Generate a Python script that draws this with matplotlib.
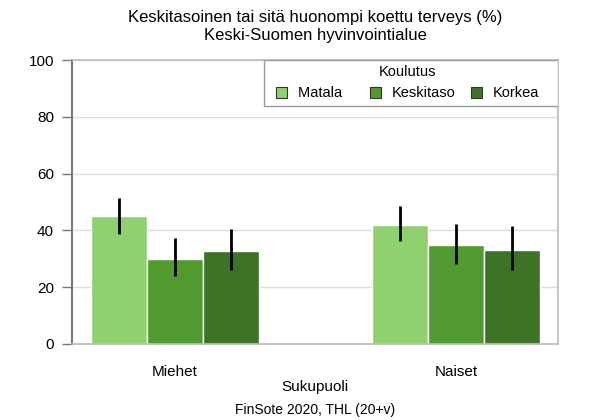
import numpy as np
import matplotlib.pyplot as plt
from matplotlib.patches import Rectangle

plt.rcParams['font.family'] = ['Liberation Sans', 'DejaVu Sans']

## data
groups = ["Miehet", "Naiset"]
levels = ["Matala", "Keskitaso", "Korkea"]
values = {
    "Matala":    [45.1, 41.9],
    "Keskitaso": [29.9, 34.9],
    "Korkea":    [32.7, 33.1],
}
err_low = {
    "Matala":    [38.7, 36.3],
    "Keskitaso": [23.9, 28.2],
    "Korkea":    [26.1, 26.1],
}
err_high = {
    "Matala":    [51.4, 48.6],
    "Keskitaso": [37.3, 42.3],
    "Korkea":    [40.5, 41.5],
}
colors = ["#8fd16f", "#519a2f", "#3d7327"]
yticks = [0, 20, 40, 60, 80, 100]

fig = plt.figure(figsize=(5.91, 4.2), dpi=100)
ax = fig.add_axes([0.1218, 0.181, 0.8222, 0.676])

x = np.arange(len(groups))
w = 0.2
bars = []
for i, (lev, col) in enumerate(zip(levels, colors)):
    pos = x + (i - 1) * w
    v = np.array(values[lev])
    lo = v - np.array(err_low[lev])
    hi = np.array(err_high[lev]) - v
    b = ax.bar(pos, v, width=w, color=col, edgecolor='white', linewidth=1, zorder=2)
    bars.append(b)
    ax.errorbar(pos, v, yerr=[lo, hi], fmt='none', ecolor='black', elinewidth=2, capsize=0, zorder=3)

ax.set_xlim(-0.367, 1.363)
ax.set_ylim(0, 100)
ax.set_yticks(yticks)
ax.set_xticks(x)
ax.set_xticklabels(groups, fontsize=11)
ax.tick_params(axis='y', labelsize=11, length=7, width=1, color='#777777', pad=6)
ax.tick_params(axis='x', length=0, pad=15)
ax.grid(axis='y', color='#dddddd', linewidth=1, zorder=0)
ax.set_axisbelow(True)

for s in ['top', 'right', 'bottom']:
    ax.spines[s].set_color('#bbbbbb')
    ax.spines[s].set_linewidth(1.2)
ax.spines['left'].set_color('#777777')
ax.spines['left'].set_linewidth(1.5)

ax.set_xlabel("Sukupuoli", fontsize=11, labelpad=1)

# legend box
ax.add_patch(Rectangle((0.395, 0.838), 0.605, 0.162, transform=ax.transAxes,
                       facecolor='white', edgecolor='#999999', linewidth=1, zorder=4))
labels = [levels[0] + "   ", levels[1], levels[2]]
leg = ax.legend(bars, labels, loc='upper left', bbox_to_anchor=(0.41, 1.0, 0.562, 0.0),
                mode='expand', ncol=3, title="Koulutus", fontsize=10.5, title_fontsize=10.5,
                frameon=False, handlelength=0.75, handleheight=0.75, handletextpad=0.75,
                borderaxespad=0, borderpad=0.35, labelspacing=0.5)
leg.set_zorder(5)
for h in leg.legend_handles:
    h.set_edgecolor('#333333')
    h.set_linewidth(0.8)

fig.text(0.533, 0.958, "Keskitasoinen tai sitä huonompi koettu terveys (%)", ha='center', va='center', fontsize=12)
fig.text(0.533, 0.916, "Keski-Suomen hyvinvointialue", ha='center', va='center', fontsize=12)
fig.text(0.533, 0.024, "FinSote 2020, THL (20+v)", ha='center', va='center', fontsize=10)

plt.savefig('out.png', dpi=100)
